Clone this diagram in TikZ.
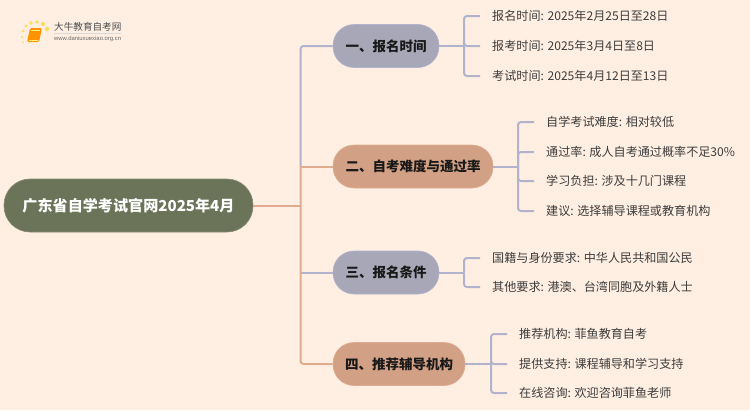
\documentclass[tikz,border=0pt]{standalone}
\usepackage{fontspec}
\setmainfont{Noto Sans CJK SC}
\newfontfamily\urlfont{Liberation Sans}
\definecolor{bgc}{HTML}{FFEFE2}
\definecolor{rootc}{HTML}{6B7358}
\definecolor{rootb}{HTML}{858A70}
\definecolor{bluec}{HTML}{A7A7B8}
\definecolor{blueb}{HTML}{B0B3CB}
\definecolor{orc}{HTML}{D2A084}
\definecolor{orb}{HTML}{E0AC90}
\definecolor{leaft}{HTML}{3C3C3C}
\tikzset{
  x=1pt,y=-1pt,
  rootnode/.style={draw=rootb,line width=.6pt,fill=rootc,rounded corners=26pt,minimum height=53pt,minimum width=249pt,inner sep=0pt,text=white,font=\fontsize{15.1}{18}\selectfont\bfseries},
  branch/.style={draw=#1,line width=.6pt,rounded corners=21pt,minimum height=43pt,inner sep=0pt,font=\fontsize{13.5}{16}\selectfont\bfseries,text=black!90},
  leaf/.style={anchor=west,inner sep=0pt,text=leaft,text height=10.4pt,text depth=1.6pt,font=\fontsize{12.1}{15}\selectfont},
  bline/.style={draw=blueb,line width=2pt,rounded corners=3pt},
  oline/.style={draw=orb,line width=2pt,rounded corners=3pt},
}
\begin{document}
\begin{tikzpicture}
\useasboundingbox (0,0) rectangle (750,410);
\fill[bgc] (0,0) rectangle (750,410);
% logo
\foreach \px/\py/\r in {23/42/1,22/37/1.2,23/31/1.4,26/26/1.6,31/23/1.8,37/22/1.9,43/24/2,47/29/2.2}
  \fill[yellow!70!orange!60!bgc] (\px,\py) circle (\r);
\fill[orange!85!yellow,rounded corners=1.5pt] (30,28) -- (42,28) -- (39,42) -- (27,42) -- cycle;
\draw[yellow!50!white,line width=.6pt] (31,30.5) -- (40,30.5);
\draw[yellow!50!white,line width=.6pt] (28.5,40) -- (37.5,40);
\node[inner sep=0pt,anchor=west,text=black!70,font=\fontsize{9.6}{11}\selectfont] (logot) at (54,27) {大牛教育自考网};
\draw[black!15,line width=.5pt] (54,33) -- (121,33);
\node[inner sep=0pt,anchor=west,text=black!60,font=\urlfont\fontsize{5.9}{7}\selectfont] (logou) at (54,39) {www.daniuxuexiao.org.cn};
% nodes
\node[rootnode] (root) at (128.5,205.5) {广东省自学考试官网2025年4月};
\node[branch=blueb,fill=bluec,minimum width=106pt] (n1) at (386,46) {一、报名时间};
\node[branch=orb,fill=orc,minimum width=160pt] (n2) at (413,166.5) {二、自考难度与通过率};
\node[branch=blueb,fill=bluec,minimum width=106pt] (n3) at (386,272.5) {三、报名条件};
\node[branch=orb,fill=orc,minimum width=132pt] (n4) at (399,364) {四、推荐辅导机构};
\node[leaf] (a1) at (492,16) {报名时间: 2025年2月25日至28日};
\node[leaf] (a2) at (492,46) {报考时间: 2025年3月4日至8日};
\node[leaf] (a3) at (492,76) {考试时间: 2025年4月12日至13日};
\node[leaf] (b1) at (546,122) {自学考试难度: 相对较低};
\node[leaf] (b2) at (546,152) {通过率: 成人自考通过概率不足30\%};
\node[leaf] (b3) at (546,181) {学习负担: 涉及十几门课程};
\node[leaf] (b4) at (546,211) {建议: 选择辅导课程或教育机构};
\node[leaf] (c1) at (492,258) {国籍与身份要求: 中华人民共和国公民};
\node[leaf] (c2) at (492,287) {其他要求: 港澳、台湾同胞及外籍人士};
\node[leaf] (d1) at (519,334) {推荐机构: 菲鱼教育自考};
\node[leaf] (d2) at (519,364) {提供支持: 课程辅导和学习支持};
\node[leaf] (d3) at (519,393) {在线咨询: 欢迎咨询菲鱼老师};
% junctions
\coordinate (t0) at (300.5,205.5);
\coordinate (t2) at (300.5,166.5);
\coordinate (t3) at (300.5,272.5);
\coordinate (j1) at (464,46);
\coordinate (j2) at (518,166.5);
\coordinate (j3) at (464,272.5);
\coordinate (j4) at (491,364);
% connectors
\draw[bline] (n1.west) -| (t2);
\draw[bline] (n3.west) -- (t3);
\draw[oline] (root.east) -- (t0);
\draw[oline] (n2.west) -- (t2);
\draw[oline] (n4.west) -| (t2);
\draw[bline] (n1.east) -- (j1);
\draw[bline] (n2.east) -- (j2);
\draw[bline] (n3.east) -- (j3);
\draw[bline] (n4.east) -- (j4);
\foreach \l in {a1,a2,a3} \draw[bline] (j1) |- ([xshift=-12pt]\l.west);
\foreach \l in {b1,b2,b3,b4} \draw[bline] (j2) |- ([xshift=-12pt]\l.west);
\foreach \l in {c1,c2} \draw[bline] (j3) |- ([xshift=-12pt]\l.west);
\foreach \l in {d1,d2,d3} \draw[bline] (j4) |- ([xshift=-12pt]\l.west);
\end{tikzpicture}
\end{document}
